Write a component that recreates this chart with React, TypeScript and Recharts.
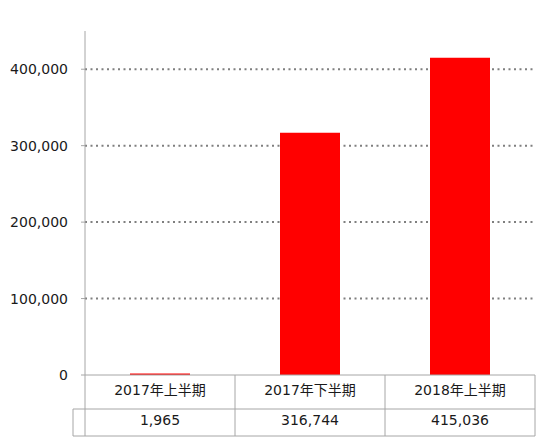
import { Bar, BarChart, CartesianGrid, XAxis, YAxis } from "recharts";

const periods = ["2017年上半期", "2017年下半期", "2018年上半期"];
const counts = [1965, 316744, 415036];
const yTicks = [0, 100000, 200000, 300000, 400000];

const data = periods.map((period, i) => ({ period, count: counts[i] }));

const FONT = "'DejaVu Sans', 'Noto Sans CJK JP', sans-serif";
const BORDER = "#a6a6a6";
const BAND = 150; // plot width / categories
const ROW1 = 34;
const ROW2 = 27;

const fmt = (v: number) => v.toLocaleString("en-US");

function TableTick({ x, y, payload }: any) {
  const i = payload.index;
  const left = x - BAND / 2;
  const right = x + BAND / 2;
  return (
    <g>
      {i === 0 && (
        <>
          <line x1={left} y1={y} x2={left} y2={y + ROW1 + ROW2} stroke={BORDER} />
          <line x1={left - 12} y1={y + ROW1} x2={left - 12} y2={y + ROW1 + ROW2} stroke={BORDER} />
          <line x1={left - 12} y1={y + ROW1} x2={left} y2={y + ROW1} stroke={BORDER} />
          <line x1={left - 12} y1={y + ROW1 + ROW2} x2={left} y2={y + ROW1 + ROW2} stroke={BORDER} />
        </>
      )}
      <line x1={right} y1={y} x2={right} y2={y + ROW1 + ROW2} stroke={BORDER} />
      <line x1={left} y1={y + ROW1} x2={right} y2={y + ROW1} stroke={BORDER} />
      <line x1={left} y1={y + ROW1 + ROW2} x2={right} y2={y + ROW1 + ROW2} stroke={BORDER} />
      <text x={x} y={y + 15} dy="0.35em" textAnchor="middle" fontSize={14} fontFamily={FONT} fill="#1a1a1a">
        {payload.value}
      </text>
      <text x={x} y={y + ROW1 + 11} dy="0.35em" textAnchor="middle" fontSize={14} fontFamily={FONT} fill="#1a1a1a">
        {fmt(counts[i])}
      </text>
    </g>
  );
}

export default function App() {
  return (
    <div style={{ position: "absolute", left: 0, top: 0, width: 550, height: 443, background: "#fff" }}>
      <BarChart width={550} height={443} data={data} margin={{ top: 31, right: 15, bottom: 6, left: 0 }}>
        <CartesianGrid
          vertical={false}
          horizontalValues={yTicks.slice(1)}
          stroke="#7f7f7f"
          strokeWidth={2}
          strokeDasharray="2 3.5"
        />
        <XAxis
          dataKey="period"
          tickLine={false}
          tickSize={0}
          tickMargin={0}
          height={62}
          axisLine={{ stroke: BORDER }}
          tick={<TableTick />}
          interval={0}
        />
        <YAxis
          domain={[0, 450000]}
          ticks={yTicks}
          width={85}
          tickFormatter={fmt}
          tickSize={4}
          tickMargin={13}
          tickLine={{ stroke: BORDER }}
          axisLine={{ stroke: BORDER }}
          tick={{ fontSize: 14, fontFamily: FONT, fill: "#1a1a1a" }}
        />
        <Bar dataKey="count" fill="#ff0000" barSize={60} isAnimationActive={false} />
      </BarChart>
    </div>
  );
}
